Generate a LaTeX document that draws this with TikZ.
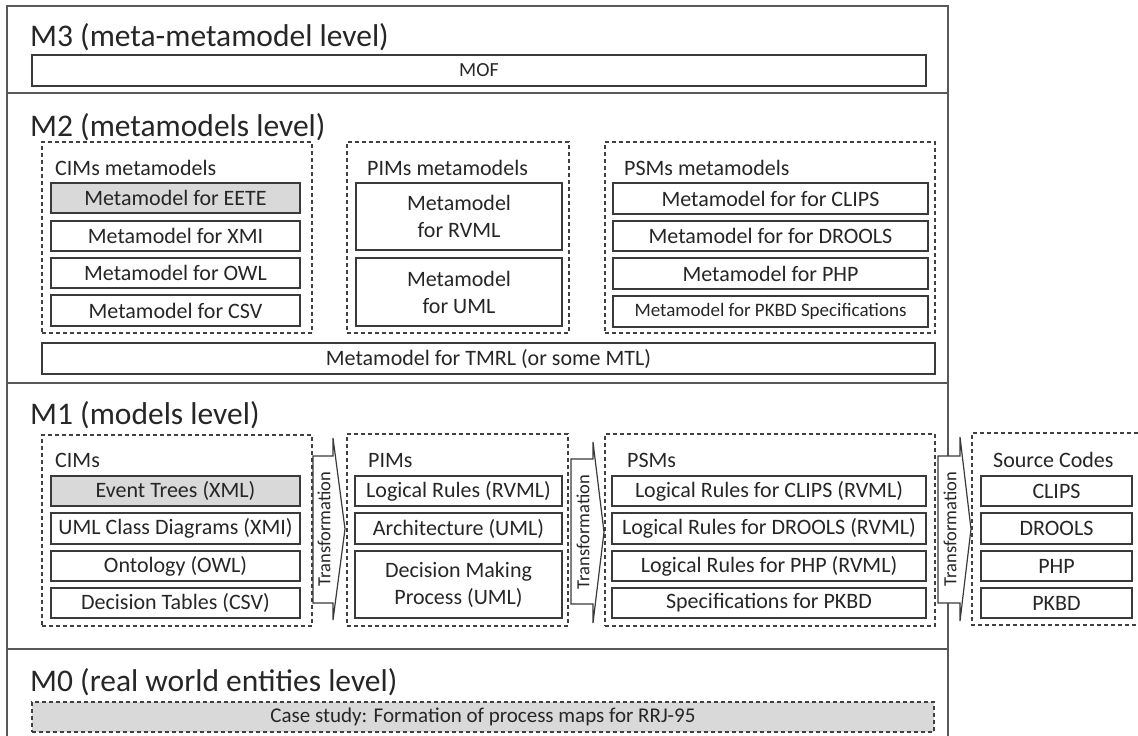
\documentclass[tikz,border=0pt]{standalone}
\usepackage{fontspec}
\setmainfont{Carlito}
\definecolor{txt}{HTML}{262626}
\definecolor{boxcol}{HTML}{3A3A3A}
\definecolor{framecol}{HTML}{595959}
\definecolor{dashcol}{HTML}{404040}
\definecolor{grayfill}{HTML}{D9D9D9}
\newcommand\titlefont{\fontsize{31.5}{36}\selectfont}
\newcommand\boxfont{\fontsize{22}{27}\selectfont}
\newcommand\smallboxfont{\fontsize{19}{23}\selectfont}
\newcommand\mofont{\fontsize{20}{24}\selectfont}
\newcommand\tfont{\fontsize{18.5}{22}\selectfont}
\newcommand\casefont{\fontsize{21}{25}\selectfont}
\tikzset{
  x=1pt, y=-1pt,
  frame/.style={draw=framecol, line width=1.4pt},
  septhick/.style={draw=framecol, line width=2.6pt},
  box/.style={draw=boxcol, line width=1.3pt, rectangle, inner sep=0pt, align=center, font=\boxfont, text=txt},
  graybox/.style={box, fill=grayfill},
  group/.style={draw=dashcol, line width=1.2pt, dash pattern=on 4pt off 3pt},
  titletext/.style={anchor=base west, font=\titlefont, text=txt, inner sep=0pt},
  lbl/.style={anchor=base west, font=\boxfont, text=txt, inner sep=0pt},
  arrowshape/.style={draw=boxcol, line width=1.2pt, fill=white, line join=miter},
  tlabel/.style={rotate=90, font=\tfont, text=txt, inner sep=0pt},
}
% #1 style, #2 name, #3 x1, #4 y1, #5 x2, #6 y2, #7 text
\newcommand\bx[7][box]{\node[#1, minimum width={#5-#3}, minimum height={#6-#4}] (#2) at ({(#3+#5)/2},{(#4+#6)/2}) {#7};}
% #1 name, #2 group x1, #3 y1, #4 x2, #5 y2
\newcommand\grp[5]{\node[group, rectangle, inner sep=0pt, minimum width={#4-#2}, minimum height={#5-#3}] (#1) at ({(#2+#4)/2},{(#3+#5)/2}) {};}
% #1 name, #2 xL, #3 xB, #4 xT, #5 shaft top, #6 shaft bottom, #7 head top, #8 head bottom, #9 tip y
\newcommand\tarrow[9]{%
  \draw[arrowshape] (#2,#5) -- (#3,#5) -- (#3,#7) -- (#4,#9) -- (#3,#8) -- (#3,#6) -- (#2,#6) -- cycle;
  \node[tlabel] (#1) at ({(#2+#3)/2+1},#9) {Transformation};}
\begin{document}
\begin{tikzpicture}
\useasboundingbox (0,0) rectangle (1138,736);
% outer frame and level separators
\draw[frame] (7,736) -- (7,6) -- (948,6) -- (948,736);
\draw[frame] (7,93) -- (948,93);
\draw[septhick] (7,383) -- (948,383);
\draw[frame] (7,649) -- (948,649);

% ---------------- M3
\node[titletext] (m3) at (30,46) {M3 (meta-metamodel level)};
\bx[box, font=\mofont]{mof}{32}{55}{926}{86}{MOF}

% ---------------- M2
\node[titletext] (m2) at (30,136) {M2 (metamodels level)};
\grp{cimmm}{42}{142}{312}{333}
\grp{pimmm}{347}{142}{569}{333}
\grp{psmmm}{605}{142}{935}{333}
\node[lbl] (cimmml) at (55,175) {CIMs metamodels};
\node[lbl] (pimmml) at (367,175) {PIMs metamodels};
\node[lbl] (psmmml) at (624,175) {PSMs metamodels};
\bx[graybox]{mmeete}{51}{183}{300}{213}{Metamodel for EETE}
\bx{mmxmi}{51}{221}{300}{251}{Metamodel for XMI}
\bx{mmowl}{51}{258}{300}{288}{Metamodel for OWL}
\bx{mmcsv}{51}{295}{300}{326}{Metamodel for CSV}
\bx{mmrvml}{356}{183}{562}{250}{Metamodel\\for RVML}
\bx{mmuml}{356}{258}{562}{326}{Metamodel\\for UML}
\bx{mmclips}{613}{183}{928}{214}{Metamodel for for CLIPS}
\bx{mmdrools}{613}{221}{928}{251}{Metamodel for for DROOLS}
\bx{mmphp}{613}{258}{928}{289}{Metamodel for PHP}
\bx[box, font=\smallboxfont]{mmpkbd}{613}{296}{928}{327}{Metamodel for PKBD Specifications}
\bx{mmtmrl}{42}{343}{935}{374}{Metamodel for TMRL (or some MTL)}

% ---------------- M1
\node[titletext] (m1) at (30,424) {M1 (models level)};
\grp{cims}{42}{435}{312}{626}
\grp{pims}{347}{434}{568}{626}
\grp{psms}{605}{434}{935}{626}
\draw[group] (1138,433) -- (972,433) -- (972,625) -- (1138,625);
\node[lbl] (cimsl) at (55,467) {CIMs};
\node[lbl] (pimsl) at (368,467) {PIMs};
\node[lbl] (psmsl) at (627,467) {PSMs};
\node[lbl] (srcl) at (993,467) {Source Codes};
\bx[graybox]{evt}{51}{476}{300}{506}{Event Trees (XML)}
\bx{ucd}{51}{513}{300}{544}{UML Class Diagrams (XMI)}
\bx{onto}{51}{551}{300}{581}{Ontology (OWL)}
\bx{dtab}{51}{588}{300}{618}{Decision Tables (CSV)}
\bx{lrrvml}{355}{476}{562}{506}{Logical Rules (RVML)}
\bx{arch}{355}{513}{562}{544}{Architecture (UML)}
\bx{dmp}{355}{551}{562}{618}{Decision Making\\Process (UML)}
\bx{lrclips}{612}{476}{926}{506}{Logical Rules for CLIPS (RVML)}
\bx{lrdrools}{612}{513}{926}{544}{Logical Rules for DROOLS (RVML)}
\bx{lrphp}{612}{551}{926}{581}{Logical Rules for PHP (RVML)}
\bx{specpkbd}{612}{588}{926}{618}{Specifications for PKBD}
\bx{sclips}{981}{476}{1132}{506}{CLIPS}
\bx{sdrools}{981}{513}{1132}{544}{DROOLS}
\bx{sphp}{981}{551}{1132}{581}{PHP}
\bx{spkbd}{981}{588}{1132}{618}{PKBD}
\tarrow{tr1}{313}{333}{345}{456}{603}{438}{620}{529}
\tarrow{tr2}{571}{593}{604}{459}{604}{442}{623}{532}
\tarrow{tr3}{938}{960}{971}{456}{603}{437}{621}{529}

% ---------------- M0
\node[titletext] (m0) at (30,691) {M0 (real world entities level)};
\node[group, fill=grayfill, rectangle, inner sep=0pt, minimum width=902, minimum height=30, font=\casefont, text=txt] (case) at (483,717) {Case study: Formation of process maps for RRJ-95};
\end{tikzpicture}
\end{document}
